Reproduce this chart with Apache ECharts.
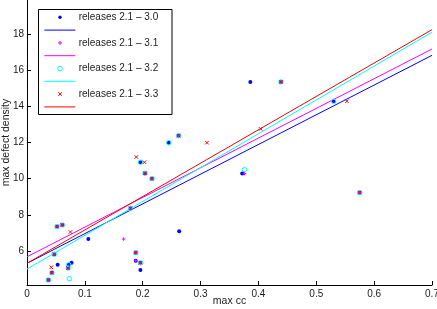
<!DOCTYPE html>
<html>
<head>
<meta charset="utf-8">
<script src="https://cdn.jsdelivr.net/npm/echarts@6/dist/echarts.min.js"></script>
<style>
html,body{margin:0;padding:0;background:#fff;}
#chart{width:437px;height:309px;}
</style>
</head>
<body>
<div id="chart"></div>
<script>
// ---- data ----
const seriesNames = ['releases 2.1 \u2013 3.0', 'releases 2.1 \u2013 3.1', 'releases 2.1 \u2013 3.2', 'releases 2.1 \u2013 3.3'];

const rel30 = [[0.043,4.80],[0.037,4.40],[0.047,5.82],[0.052,7.35],[0.061,7.44],[0.071,5.06],[0.179,8.36],[0.188,5.91],[0.196,5.35],[0.204,10.30],[0.216,10.00],[0.262,12.38],[0.439,15.35],[0.575,9.23],
  [0.053,5.24],[0.077,5.35],[0.106,6.66],[0.196,4.95],[0.263,7.09],[0.386,15.35],[0.372,10.28],[0.072,5.24],[0.196,10.91],[0.245,11.99],[0.530,14.28],[0.188,5.46]];
const rel31 = [[0.043,4.80],[0.037,4.40],[0.047,5.82],[0.052,7.35],[0.061,7.44],[0.071,5.06],[0.179,8.36],[0.188,5.91],[0.196,5.35],[0.204,10.30],[0.216,10.00],[0.262,12.38],[0.439,15.35],[0.575,9.23],
  [0.188,5.46],[0.167,6.66],[0.376,10.28]];
const rel32 = [[0.043,4.80],[0.037,4.40],[0.047,5.82],[0.052,7.35],[0.061,7.44],[0.071,5.06],[0.179,8.36],[0.188,5.91],[0.196,5.35],[0.204,10.30],[0.216,10.00],[0.262,12.38],[0.439,15.35],[0.575,9.23],
  [0.072,5.24],[0.196,10.91],[0.245,11.99],[0.530,14.28],[0.073,4.47],[0.376,10.50]];
const rel33 = [[0.043,4.80],[0.037,4.40],[0.047,5.82],[0.052,7.35],[0.061,7.44],[0.071,5.06],[0.179,8.36],[0.188,5.91],[0.196,5.35],[0.204,10.30],[0.216,10.00],[0.262,12.38],[0.439,15.35],[0.575,9.23],
  [0.042,5.10],[0.075,7.05],[0.189,11.20],[0.203,10.91],[0.311,11.99],[0.404,12.75],[0.553,14.28]];

// regression lines: value at x = fitX[0] and x = fitX[1]
const fitX = [0, 0.7];
const fitStart = [5.32, 5.68, 5.00, 5.32];
const fitEnd = [16.82, 17.17, 18.10, 18.24];

const xTicks = [0, 0.1, 0.2, 0.3, 0.4, 0.5, 0.6, 0.7];
const xTickLabels = ['0', '0.1', '0.2', '0.3', '0.4', '0.5', '0.6', '0.7'];
const yTicks = [6, 8, 10, 12, 14, 16, 18];
const yTickLabels = ['6', '8', '10', '12', '14', '16', '18'];

// ---- styling ----
const colors = ['#0000ff', '#ff00ff', '#00ffff', '#ff0000'];
const symbols = [
  'circle',
  'path://M5,0L5,10M0,5L10,5',
  'path://M10,5A5,5 0 1 1 0,5A5,5 0 1 1 10,5Z',
  'path://M0,0L10,10M10,0L0,10'
];
const symbolSizes = [4, 3.5, 4.5, 3.5];
const datasets = [rel30, rel31, rel32, rel33];
const font = 'Liberation Sans, Arial, Helvetica, sans-serif';
const textColor = '#1a1a1a';

const series = [];
for (let i = 0; i < 4; i++) {
  const isDot = i === 0;
  series.push({
    type: 'scatter',
    name: seriesNames[i],
    data: datasets[i],
    symbol: symbols[i],
    symbolSize: symbolSizes[i],
    itemStyle: isDot ? { color: colors[i], opacity: 1 } : { color: 'none', borderColor: colors[i], borderWidth: 1, opacity: 1 },
    emphasis: { disabled: true },
    z: 3 + i
  });
  series.push({
    type: 'line',
    name: 'fit ' + seriesNames[i],
    data: [[fitX[0], fitStart[i]], [fitX[1], fitEnd[i]]],
    symbol: 'none',
    showSymbol: false,
    lineStyle: { color: colors[i], width: 1 },
    itemStyle: { color: colors[i] },
    emphasis: { disabled: true },
    z: 3 + i
  });
}

// ---- legend drawn as graphic (marker row + line row per series) ----
const legendBox = { x: 38.5, y: 9.5, w: 133.5, h: 105 };
const legendRow0 = 17.3, legendRowStep = 25.6, legendLineOffset = 12.8;
const legendEls = [{
  type: 'rect', shape: { x: legendBox.x, y: legendBox.y, width: legendBox.w, height: legendBox.h },
  style: { fill: '#fff', stroke: '#000', lineWidth: 1 }, z: 100
}];
for (let i = 0; i < 4; i++) {
  const ym = legendRow0 + i * legendRowStep;
  const yl = ym + legendLineOffset;
  const mx = 60;
  if (i === 0) {
    legendEls.push({ type: 'circle', shape: { cx: mx, cy: ym, r: 1.7 }, style: { fill: colors[i] }, z: 101 });
  } else if (i === 1) {
    legendEls.push({ type: 'polyline', shape: { points: [[mx - 2, ym], [mx + 2, ym]] }, style: { stroke: colors[i], lineWidth: 1 }, z: 101 });
    legendEls.push({ type: 'polyline', shape: { points: [[mx, ym - 2], [mx, ym + 2]] }, style: { stroke: colors[i], lineWidth: 1 }, z: 101 });
  } else if (i === 2) {
    legendEls.push({ type: 'circle', shape: { cx: mx, cy: ym, r: 2.3 }, style: { fill: 'none', stroke: colors[i], lineWidth: 1 }, z: 101 });
  } else {
    legendEls.push({ type: 'polyline', shape: { points: [[mx - 1.8, ym - 1.8], [mx + 1.8, ym + 1.8]] }, style: { stroke: colors[i], lineWidth: 1 }, z: 101 });
    legendEls.push({ type: 'polyline', shape: { points: [[mx + 1.8, ym - 1.8], [mx - 1.8, ym + 1.8]] }, style: { stroke: colors[i], lineWidth: 1 }, z: 101 });
  }
  legendEls.push({
    type: 'text', x: 78.7, y: ym,
    style: { text: seriesNames[i], fill: textColor, font: '10px ' + font, verticalAlign: 'middle', align: 'left' }, z: 101
  });
  legendEls.push({ type: 'polyline', shape: { points: [[44.3, yl], [75.3, yl]] }, style: { stroke: colors[i], lineWidth: 1 }, z: 101 });
}

const chart = echarts.init(document.getElementById('chart'), null, { renderer: 'canvas' });
chart.setOption({
  animation: false,
  backgroundColor: '#fff',
  textStyle: { fontFamily: font },
  grid: { left: 27, right: 5, top: 0, bottom: 24, containLabel: false, outerBoundsMode: 'none' },
  graphic: legendEls,
  xAxis: {
    type: 'value',
    min: 0,
    max: 0.7,
    interval: 0.1,
    name: 'max cc',
    nameLocation: 'middle',
    nameGap: 11,
    nameMoveOverlap: false,
    nameTextStyle: { fontFamily: font, fontSize: 10.5, color: textColor },
    splitLine: { show: false },
    axisLine: { show: true, lineStyle: { color: '#000', width: 1 } },
    axisTick: { show: true, inside: true, length: 4, lineStyle: { color: '#000' } },
    axisLabel: {
      margin: 4,
      fontFamily: font, fontSize: 10, color: textColor,
      formatter: function (v) { const k = xTicks.findIndex(t => Math.abs(t - v) < 1e-9); return k >= 0 ? xTickLabels[k] : ''; }
    }
  },
  yAxis: {
    type: 'value',
    min: 4.12,
    max: 19.88,
    name: 'max defect density',
    nameLocation: 'middle',
    nameGap: 15,
    nameMoveOverlap: false,
    nameTextStyle: { fontFamily: font, fontSize: 10.5, color: textColor },
    splitLine: { show: false },
    axisLine: { show: true, lineStyle: { color: '#000', width: 1 } },
    axisTick: { show: true, inside: true, length: 4, customValues: yTicks, lineStyle: { color: '#000' } },
    axisLabel: {
      margin: 3,
      fontFamily: font, fontSize: 10, color: textColor,
      customValues: yTicks,
      formatter: function (v) { const k = yTicks.findIndex(t => Math.abs(t - v) < 1e-9); return k >= 0 ? yTickLabels[k] : ''; }
    }
  },
  series: series
});
</script>
</body>
</html>
